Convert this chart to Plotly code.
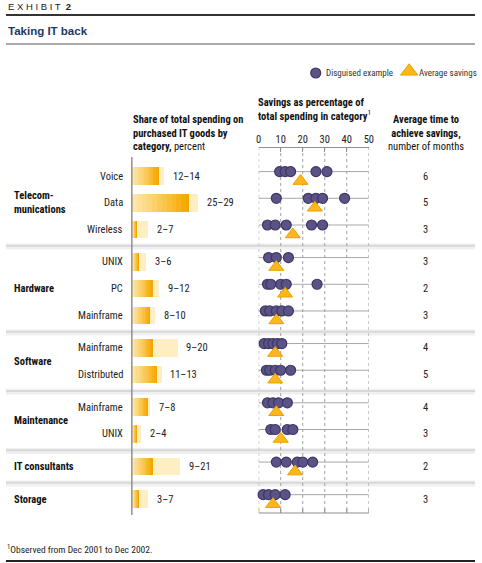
import plotly.graph_objects as go

W, H = 482, 563

# ---------------- data ----------------
groups = ["Telecom-<br>munications", "Hardware", "Software", "Maintenance", "IT consultants", "Storage"]
group_sizes = [3, 3, 2, 2, 1, 1]
subcats = ["Voice", "Data", "Wireless", "UNIX", "PC", "Mainframe",
           "Mainframe", "Distributed", "Mainframe", "UNIX", "", ""]
share_low = [12, 25, 2, 3, 9, 8, 9, 11, 7, 2, 9, 3]
share_high = [14, 29, 7, 6, 12, 10, 20, 13, 8, 4, 21, 7]
examples = [
    [9.5, 12, 14.5, 26, 31],
    [8, 22.5, 26, 29, 39],
    [4, 7.5, 12.5, 24, 29],
    [4.5, 8, 13.5],
    [4, 5.5, 10, 12.5, 26.5],
    [3, 5, 8, 10.5, 13.5],
    [2.5, 4.5, 6.5, 8.5, 10.5],
    [3.5, 5, 7.5, 10, 14.5],
    [4, 6.5, 9, 13],
    [5.5, 7.5, 13, 15.5],
    [8, 12.5, 17.5, 20, 24.5],
    [2, 4.5, 7.5, 12],
]
avg_savings = [19, 25.5, 15.5, 8, 12, 8, 7.5, 7.5, 8, 10, 16.5, 6.5]
months = [6, 5, 3, 3, 2, 3, 4, 5, 4, 3, 2, 3]
savings_ticks = [0, 10, 20, 30, 40, 50]

# ---------------- layout helpers ----------------
FONT = "Liberation Sans Narrow, Arial Narrow, Roboto Condensed, Liberation Sans, sans-serif"
WIDE = "Liberation Sans, Arial, sans-serif"
PX0, UNIT = 176.0, 26.7          # pixel row of first category, pixels per row
GAP = 0.22


def yu(p):  # pixel -> y units
    return (p - PX0) / UNIT


def px(x):
    return x / W


def py(y):
    return 1 - y / H


rows_y = []
i = 0
for g, n in enumerate(group_sizes):
    for k in range(n):
        rows_y.append(i + g * GAP)
        i += 1

starts = [sum(group_sizes[:g]) for g in range(len(group_sizes))]
group_y = [sum(rows_y[s:s + n]) / n for s, n in zip(starts, group_sizes)]
sep_y = [(rows_y[s - 1] + rows_y[s]) / 2 for s in starts[1:]]

fig = go.Figure()

# ---- bars (share of spending) ----
fig.add_trace(go.Bar(y=rows_y, x=share_high, orientation="h", width=0.66,
                     marker=dict(color="#FEEEC2", line=dict(width=0)),
                     xaxis="x", yaxis="y", hoverinfo="skip"))
grad = [(1.0, "#F5A600"), (0.94, "#F6AB0C"), (0.86, "#F7B11A"), (0.78, "#F8B82A"),
        (0.70, "#F9BE3A"), (0.62, "#F9C54B"), (0.53, "#FACB5C"), (0.44, "#FBD16C"),
        (0.35, "#FBD77C"), (0.26, "#FCDC8B"), (0.17, "#FCE19A"), (0.08, "#FDE6A8")]
for f, c in grad:
    fig.add_trace(go.Bar(y=rows_y, x=[v * f for v in share_low], orientation="h", width=0.66,
                         marker=dict(color=c, line=dict(width=0)),
                         xaxis="x", yaxis="y", hoverinfo="skip"))

# ---- dots ----
dx, dy = [], []
for r, vals in zip(rows_y, examples):
    for v in vals:
        dx.append(v)
        dy.append(r - 0.165)
fig.add_trace(go.Scatter(x=dx, y=dy, mode="markers", xaxis="x2", yaxis="y", cliponaxis=False,
                         marker=dict(size=10, color="#5B5385", line=dict(color="#3E3768", width=1.2)),
                         hoverinfo="skip"))
fig.add_trace(go.Scatter(x=avg_savings, y=[r + 0.19 for r in rows_y], mode="markers",
                         xaxis="x2", yaxis="y", cliponaxis=False,
                         marker=dict(symbol="triangle-up", size=13, color="#FBB81C",
                                     line=dict(color="#EE9E00", width=1)),
                         hoverinfo="skip"))

shapes = []
# header rules
shapes.append(dict(type="line", xref="paper", yref="paper", x0=px(3), x1=px(480), y0=py(15), y1=py(15),
                   line=dict(color="#333333", width=2)))
shapes.append(dict(type="line", xref="paper", yref="paper", x0=px(3), x1=px(480), y0=py(44), y1=py(44),
                   line=dict(color="#555555", width=1)))
shapes.append(dict(type="line", xref="paper", yref="paper", x0=px(3), x1=px(480), y0=py(561), y1=py(561),
                   line=dict(color="#222222", width=2)))
# separators
for s in sep_y:
    shapes.append(dict(type="line", xref="paper", yref="y", x0=px(3), x1=px(480), y0=s + 0.03, y1=s + 0.03,
                       line=dict(color="#F0F0F0", width=6), layer="below"))
    shapes.append(dict(type="line", xref="paper", yref="y", x0=px(3), x1=px(480), y0=s, y1=s,
                       line=dict(color="#D8D8D8", width=2), layer="below"))
# bar baseline
shapes.append(dict(type="line", xref="paper", yref="y", x0=px(131), x1=px(131), y0=yu(157), y1=yu(515),
                   line=dict(color="#909090", width=1.5)))
# dot row lines
for r in rows_y:
    shapes.append(dict(type="line", xref="x2", yref="y", x0=savings_ticks[0], x1=savings_ticks[-1],
                       y0=r - 0.165, y1=r - 0.165, line=dict(color="#A8A8A8", width=1), layer="below"))
# dashed gridlines
for t in savings_ticks:
    shapes.append(dict(type="line", xref="x2", yref="y", x0=t, x1=t, y0=yu(147), y1=yu(513),
                       line=dict(color="#A0A0A0", width=1, dash="3px,3px"), layer="below"))
# bottom axis line
shapes.append(dict(type="line", xref="x2", yref="y", x0=savings_ticks[0], x1=savings_ticks[-1],
                   y0=yu(513), y1=yu(513), line=dict(color="#909090", width=1.2)))
for t in savings_ticks:
    shapes.append(dict(type="line", xref="x2", yref="y", x0=t, x1=t, y0=yu(513), y1=yu(509),
                       line=dict(color="#909090", width=1.2)))

ann = []


def txt(x, y, text, size=10.5, color="#111111", xanchor="left", yanchor="middle", align="left",
        xref="paper", yref="paper", xshift=0, bold=False, family=FONT):
    ann.append(dict(x=x, y=y, xref=xref, yref=yref, text=(f"<b>{text}</b>" if bold else text),
                    showarrow=False, xanchor=xanchor, yanchor=yanchor, align=align, xshift=xshift,
                    font=dict(family=family, size=size, color=color)))


txt(px(3), py(7), "E X H I B I T  <b>2</b>", size=9.5, color="#222222", family=WIDE)
txt(px(3), py(31), "Taking IT back", size=11.5, color="#1B3A66", bold=True, family=WIDE)

# legend
ann_leg_y = py(73)
fig.add_trace(go.Scatter(x=[px(318)], y=[ann_leg_y], xaxis="x9", yaxis="y9", mode="markers",
                         marker=dict(size=10, color="#5B5385", line=dict(color="#3E3768", width=1.2)),
                         hoverinfo="skip", cliponaxis=False))
fig.add_trace(go.Scatter(x=[px(413)], y=[ann_leg_y + 0.003], xaxis="x9", yaxis="y9", mode="markers",
                         marker=dict(symbol="triangle-up", size=15, color="#FBB81C",
                                     line=dict(color="#EE9E00", width=1)),
                         hoverinfo="skip", cliponaxis=False))
txt(px(326), ann_leg_y, "Disguised example", size=9, color="#333333")
txt(px(421), ann_leg_y, "Average savings", size=9, color="#333333")

# column headers
txt(px(130), py(133), "<b>Share of total spending on<br>purchased IT goods by<br>category,</b> percent",
    size=10.5)
txt(px(257), py(109), "<b>Savings as percentage of<br>total spending in category</b><sup>1</sup>", size=10.5)
txt(px(430), py(133), "<b>Average time to<br>achieve savings,</b><br>number of months", size=10.5,
    xanchor="center", align="center")

# row labels
for r, s in zip(rows_y, subcats):
    if s:
        txt(px(124), r, s, size=10.5, color="#222222", xanchor="right", yref="y")
for gy, g in zip(group_y, groups):
    txt(px(9), gy, g, size=10.5, bold=True, yref="y")
for r, lo, hi in zip(rows_y, share_low, share_high):
    txt(hi, r, f"{lo}–{hi}", size=10.5, color="#222222", xref="x", yref="y", xshift=7)
for r, m in zip(rows_y, months):
    txt(px(430), r, str(m), size=10.5, color="#222222", xanchor="center", yref="y")

txt(px(2), py(549), "<sup>1</sup>Observed from Dec 2001 to Dec 2002.", size=9.5, color="#222222")

fig.update_layout(
    width=W, height=H, margin=dict(l=0, r=0, t=0, b=0),
    paper_bgcolor="white", plot_bgcolor="rgba(0,0,0,0)",
    barmode="overlay", showlegend=False, bargap=0,
    font=dict(family=FONT),
    xaxis=dict(domain=[px(131), px(250)], range=[0, (250 - 131) / 2.32], visible=False, fixedrange=True),
    xaxis2=dict(domain=[px(260), px(372)], range=[savings_ticks[0], savings_ticks[-1]],
                anchor="free", position=py(147), side="top", tickvals=savings_ticks,
                ticks="inside", ticklen=4, tickcolor="#909090", showline=True, linecolor="#909090",
                linewidth=1.2, showgrid=False, zeroline=False,
                tickfont=dict(family=FONT, size=10.5, color="#222222")),
    yaxis=dict(domain=[0, 1], range=[yu(H), yu(0)], visible=False, fixedrange=True),
    xaxis9=dict(domain=[0, 1], range=[0, 1], visible=False, anchor="y9"),
    yaxis9=dict(domain=[0, 1], range=[0, 1], visible=False, anchor="x9"),
    shapes=shapes, annotations=ann,
)

fig.write_html("out.html", config={"displayModeBar": False},
               post_script="document.body.style.margin='0';document.body.style.padding='0';")
